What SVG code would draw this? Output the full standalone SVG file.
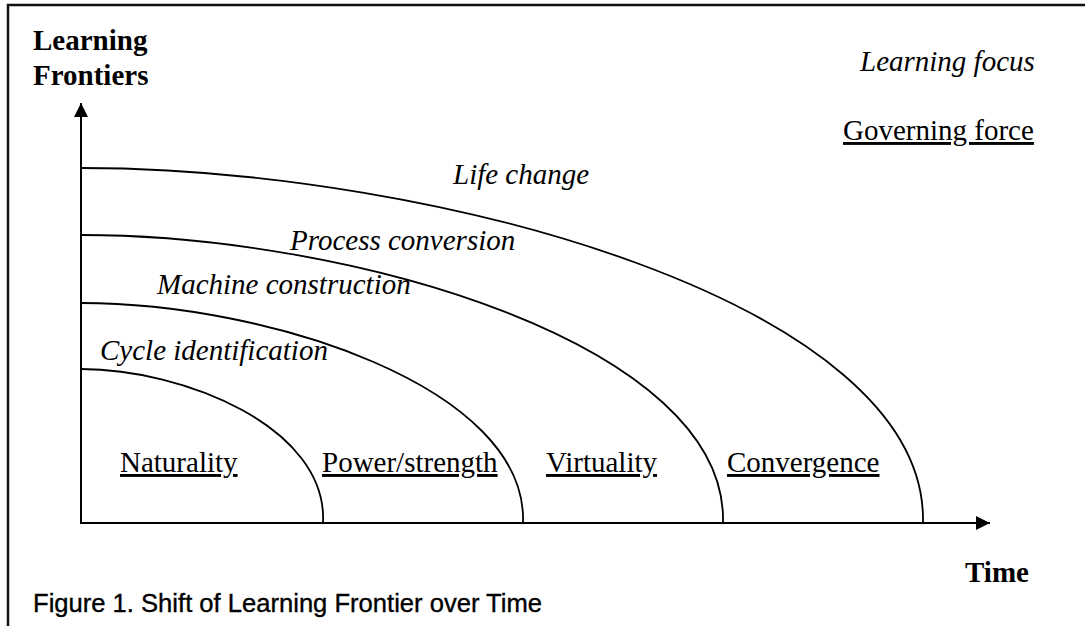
<svg xmlns="http://www.w3.org/2000/svg" width="1085" height="626" viewBox="0 0 1085 626">
  <style>
    .serif { font-family: "Liberation Serif", "Times New Roman", serif; font-size: 29px; fill: #000; }
    .bold { font-weight: bold; }
    .ital { font-style: italic; }
    .under { text-decoration: underline; }
    .caption { font-family: "Liberation Sans", Arial, sans-serif; font-size: 25px; fill: #000; stroke: #000; stroke-width: 0.35; }
    .axis { stroke: #000; stroke-width: 2; fill: none; }
    .frontier { stroke: #000; stroke-width: 1.8; fill: none; }
    .frame { stroke: #111; stroke-width: 2.5; fill: none; }
  </style>
  <defs>
    <marker id="arrow" viewBox="0 0 14 14" refX="14" refY="7" markerWidth="14" markerHeight="14" markerUnits="userSpaceOnUse" orient="auto">
      <path d="M0,0 L14,7 L0,14 Z" fill="#000"/>
    </marker>
  </defs>
  <rect width="1085" height="626" fill="#fff"/>

  <!-- page frame: top rule and left rule -->
  <path class="frame" d="M8,626 V5 H1085"/>

  <!-- axes -->
  <g id="axes">
    <line class="axis" x1="81" y1="523" x2="81" y2="103" marker-end="url(#arrow)"/>
    <line class="axis" x1="80" y1="523" x2="990" y2="523" marker-end="url(#arrow)"/>
    <text class="serif bold" x="33" y="50">Learning</text>
    <text class="serif bold" x="33" y="85">Frontiers</text>
    <text class="serif bold" x="965" y="582">Time</text>
  </g>

  <!-- legend -->
  <g id="legend">
    <text class="serif ital" x="860" y="71">Learning focus</text>
    <text class="serif under" x="843" y="140">Governing force</text>
  </g>

  <!-- frontier arcs -->
  <g id="connectors">
    <path class="frontier" d="M81,369 C183,369 328,427 323,523"/>
    <path class="frontier" d="M81,303 C267,303 528,387 523,523"/>
    <path class="frontier" d="M81,235 C351,235 728,344 723,523"/>
    <path class="frontier" d="M81,168 C435,168 928,303 923,523"/>
  </g>

  <g id="stage-naturality">
    <text class="serif ital" x="100" y="360">Cycle identification</text>
    <text class="serif under" x="120" y="472">Naturality</text>
  </g>
  <g id="stage-power">
    <text class="serif ital" x="157" y="294">Machine construction</text>
    <text class="serif under" x="322" y="472">Power/strength</text>
  </g>
  <g id="stage-virtuality">
    <text class="serif ital" x="290" y="250">Process conversion</text>
    <text class="serif under" x="546" y="472">Virtuality</text>
  </g>
  <g id="stage-convergence">
    <text class="serif ital" x="453" y="184">Life change</text>
    <text class="serif under" x="727" y="472">Convergence</text>
  </g>

  <text class="caption" x="33" y="612" textLength="509" lengthAdjust="spacingAndGlyphs">Figure 1. Shift of Learning Frontier over Time</text>
</svg>
